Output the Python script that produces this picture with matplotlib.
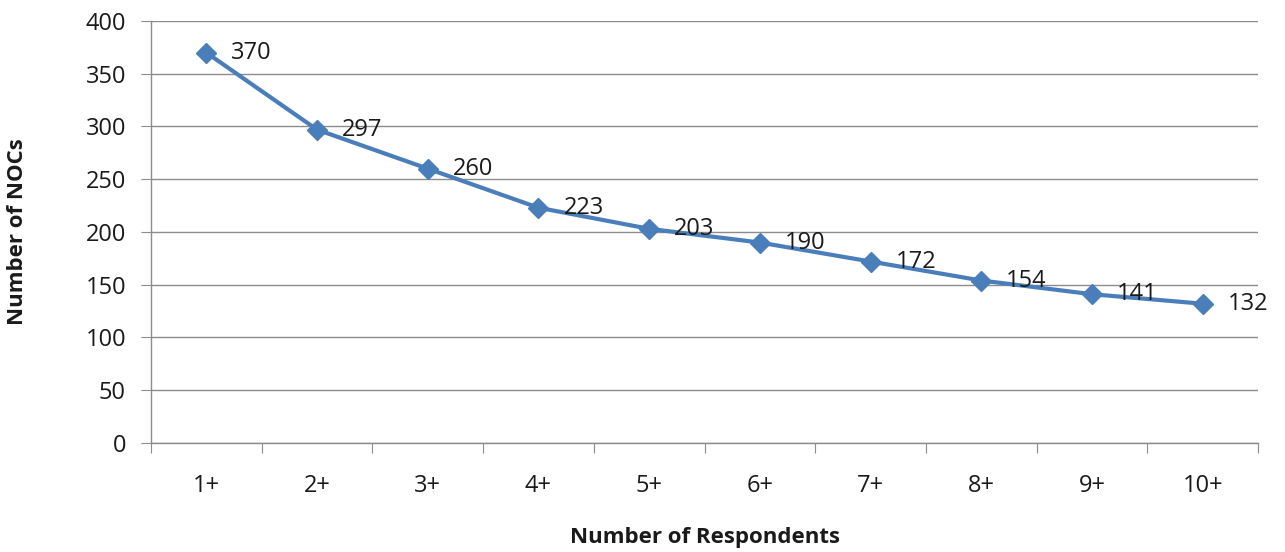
import matplotlib.pyplot as plt

# data
categorias = ['1+', '2+', '3+', '4+', '5+', '6+', '7+', '8+', '9+', '10+']
nocs = [370, 297, 260, 223, 203, 190, 172, 154, 141, 132]

plt.rcParams['font.family'] = ['Open Sans', 'DejaVu Sans']

cor_linha = '#4A7EBB'
cor_grade = '#8C8C8C'
cor_texto = '#1a1a1a'

fig = plt.figure(figsize=(12.85, 5.52), dpi=100)
ax = fig.add_axes([0.1175, 0.1975, 0.979 - 0.1175, 0.962 - 0.1975])

x = list(range(len(categorias)))
ax.plot(x, nocs, color=cor_linha, linewidth=3, marker='D', markersize=10,
        markerfacecolor=cor_linha, markeredgecolor=cor_linha, zorder=3)

# rótulos dos pontos
for xi, v in zip(x, nocs):
    ax.annotate(str(v), (xi, v), xytext=(18, 0), textcoords='offset points',
                ha='left', va='center', fontsize=17, color=cor_texto, zorder=4)

ax.set_xlim(-0.5, len(categorias) - 0.5)
ax.set_ylim(0, 400)
ax.set_yticks(range(0, 401, 50))
ax.yaxis.grid(True, color=cor_grade, linewidth=1)
ax.set_axisbelow(True)

# ticks do eixo x entre categorias
ax.set_xticks([i - 0.5 for i in range(len(categorias) + 1)])
ax.set_xticklabels([])
ax.set_xticks(x, minor=True)
ax.set_xticklabels(categorias, minor=True)
ax.tick_params(axis='x', which='major', length=7, color=cor_grade, direction='out')
ax.tick_params(axis='x', which='minor', length=0, labelsize=17, pad=22, labelcolor=cor_texto)
ax.tick_params(axis='y', length=7, color=cor_grade, labelsize=17, pad=11, labelcolor=cor_texto)

for lado in ['top', 'right']:
    ax.spines[lado].set_visible(False)
for lado in ['left', 'bottom']:
    ax.spines[lado].set_color(cor_grade)
    ax.spines[lado].set_linewidth(1)

# títulos dos eixos
fig.text(705 / 1285, 1 - 537 / 552, 'Number of Respondents', fontsize=16, fontweight='bold',
         ha='center', va='center', color=cor_texto)
fig.text(18 / 1285, 1 - 232 / 552, 'Number of NOCs', fontsize=16, fontweight='bold',
         ha='center', va='center', rotation=90, color=cor_texto)

fig.savefig('out.png', dpi=100)
